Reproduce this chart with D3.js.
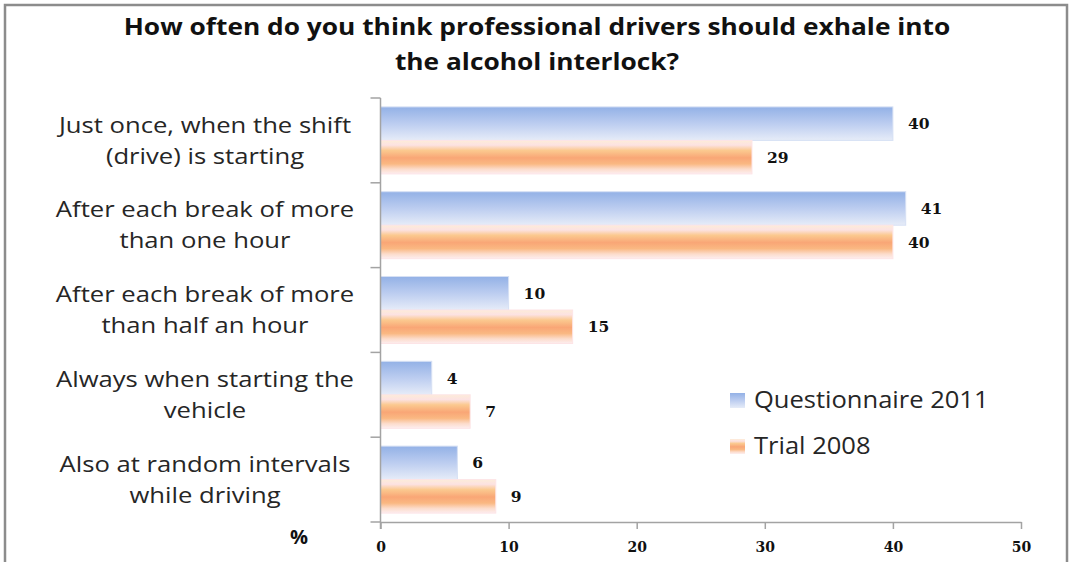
<!DOCTYPE html>
<html>
<head>
<meta charset="utf-8">
<script src="https://cdn.jsdelivr.net/npm/d3@7"></script>
<style>
  html, body { margin: 0; padding: 0; background: #fff; }
  svg { display: block; }
</style>
</head>
<body>
<svg id="chart" width="1073" height="562"></svg>
<script>
// Answer categories (two-line labels), series and axis ticks
const categories = [
  ["Just once, when the shift", "(drive) is starting"],
  ["After each break of more", "than one hour"],
  ["After each break of more", "than half an hour"],
  ["Always when starting the", "vehicle"],
  ["Also at random intervals", "while driving"]
];
const seriesNames = ["Questionnaire 2011", "Trial 2008"];
const questionnaire2011 = [40, 41, 10, 4, 6];
const trial2008 = [29, 40, 15, 7, 9];
const xTicks = [0, 10, 20, 30, 40, 50];
const titleLines = [
  "How often do you think professional drivers should exhale into",
  "the alcohol interlock?"
];

const svg = d3.select("#chart");
const sans = "'Open Sans', 'Liberation Sans', sans-serif";

// Gradients for the two series
const defs = svg.append("defs");
const blue = defs.append("linearGradient").attr("id", "gBlue")
  .attr("x1", 0).attr("y1", 0).attr("x2", 0).attr("y2", 1);
[[0, "#93b1e6"], [0.5, "#bccdf0"], [1, "#e6ecf8"]].forEach(([o, c]) =>
  blue.append("stop").attr("offset", o).attr("stop-color", c));
const orange = defs.append("linearGradient").attr("id", "gOrange")
  .attr("x1", 0).attr("y1", 0).attr("x2", 0).attr("y2", 1);
[[0, "#fdecd8"], [0.14, "#fce2e2"], [0.3, "#fbc98f"], [0.52, "#f9a676"],
 [0.7, "#fab882"], [0.86, "#fcdccb"], [1, "#fdeef0"]].forEach(([o, c]) =>
  orange.append("stop").attr("offset", o).attr("stop-color", c));
const fills = ["url(#gBlue)", "url(#gOrange)"];
const strokes = ["#d6e0f4", "#fde4e6"];

// Outer chart border
svg.append("rect")
  .attr("x", 5).attr("y", 5).attr("width", 1062).attr("height", 600)
  .attr("fill", "none").attr("stroke", "#8c8c8c").attr("stroke-width", 2.5);

// Title (slightly widened lettering)
svg.append("g").attr("transform", "translate(537,0) scale(1.12,1)")
  .selectAll("text").data(titleLines).join("text")
  .attr("x", 0).attr("y", (d, i) => 35 + i * 35)
  .attr("text-anchor", "middle")
  .attr("font-family", sans)
  .attr("font-weight", "bold").attr("font-size", 23.5)
  .attr("fill", "#111")
  .text(d => d);

// Scales
const x = d3.scaleLinear().domain([0, 50]).range([380.5, 1021]);
const y = d3.scaleBand().domain(d3.range(categories.length)).range([98, 522])
  .paddingInner(0).paddingOuter(0);
const ySub = d3.scaleBand().domain([0, 1]).range([0, y.bandwidth()])
  .paddingInner(0).paddingOuter(0.266);

const axisColor = "#a3a3a3";

// Bars
const rows = categories.map((c, i) => ({ i, values: [questionnaire2011[i], trial2008[i]] }));
const groups = svg.append("g").selectAll("g").data(rows).join("g")
  .attr("transform", d => `translate(0,${y(d.i)})`);
groups.selectAll("rect").data(d => d.values.map((v, s) => ({ v, s }))).join("rect")
  .attr("x", x(0))
  .attr("y", d => ySub(d.s))
  .attr("width", d => x(d.v) - x(0))
  .attr("height", ySub.bandwidth())
  .attr("fill", d => fills[d.s])
  .attr("stroke", d => strokes[d.s]).attr("stroke-width", 1);

// Value labels
groups.selectAll("text").data(d => d.values.map((v, s) => ({ v, s }))).join("text")
  .attr("x", d => x(d.v) + 15)
  .attr("y", d => ySub(d.s) + ySub.bandwidth() / 2)
  .attr("dy", "0.36em")
  .attr("font-family", "'DejaVu Serif', serif")
  .attr("font-weight", "bold").attr("font-size", 15.5)
  .attr("fill", "#111")
  .text(d => d.v);

// Category axis: line with ticks at band boundaries
const yAxis = svg.append("g");
yAxis.append("line")
  .attr("x1", x(0)).attr("x2", x(0)).attr("y1", y.range()[0]).attr("y2", y.range()[1] + 7)
  .attr("stroke", axisColor).attr("stroke-width", 1.5);
const bounds = categories.map((c, i) => y(i)).concat([y.range()[1]]);
yAxis.selectAll(".tk").data(bounds).join("line")
  .attr("x1", x(0) - 10).attr("x2", x(0)).attr("y1", d => d).attr("y2", d => d)
  .attr("stroke", axisColor).attr("stroke-width", 1.5);

// Category labels
const catG = svg.append("g").attr("transform", "translate(205,0) scale(1.15,1)");
categories.forEach((lines, i) => {
  const cy = y(i) + y.bandwidth() / 2;
  catG.append("text")
    .attr("x", 0).attr("text-anchor", "middle")
    .attr("font-family", sans)
    .attr("font-size", 22.3).attr("fill", "#262626")
    .selectAll("tspan").data(lines).join("tspan")
    .attr("x", 0)
    .attr("y", (d, k) => cy + (k - 0.5) * 31)
    .attr("dy", "0.35em")
    .text(d => d);
});

// Value axis
const xAxis = svg.append("g").attr("transform", `translate(0,${y.range()[1]})`)
  .call(d3.axisBottom(x).tickValues(xTicks).tickSize(7).tickSizeOuter(0).tickPadding(13));
xAxis.select(".domain").attr("stroke", axisColor).attr("stroke-width", 1.5);
xAxis.selectAll(".tick line").attr("stroke", axisColor).attr("stroke-width", 1.5);
xAxis.selectAll(".tick text")
  .attr("font-family", "'DejaVu Serif', serif")
  .attr("font-weight", "bold").attr("font-size", 14)
  .attr("fill", "#111");

// Unit label
svg.append("text")
  .attr("x", 299).attr("y", 537).attr("dy", "0.35em")
  .attr("text-anchor", "middle")
  .attr("font-family", sans)
  .attr("font-weight", "bold").attr("font-size", 20)
  .attr("fill", "#111")
  .text("%");

// Legend
const legend = svg.append("g").selectAll("g").data(seriesNames).join("g")
  .attr("transform", (d, i) => `translate(730,${393 + i * 46})`);
legend.append("rect")
  .attr("width", 15).attr("height", 15)
  .attr("fill", (d, i) => fills[i]);
legend.append("text")
  .attr("transform", "translate(24,0) scale(1.12,1)")
  .attr("x", 0).attr("y", 7.5).attr("dy", "0.35em")
  .attr("font-family", sans)
  .attr("font-size", 22.8).attr("fill", "#262626")
  .text(d => d);
</script>
</body>
</html>
